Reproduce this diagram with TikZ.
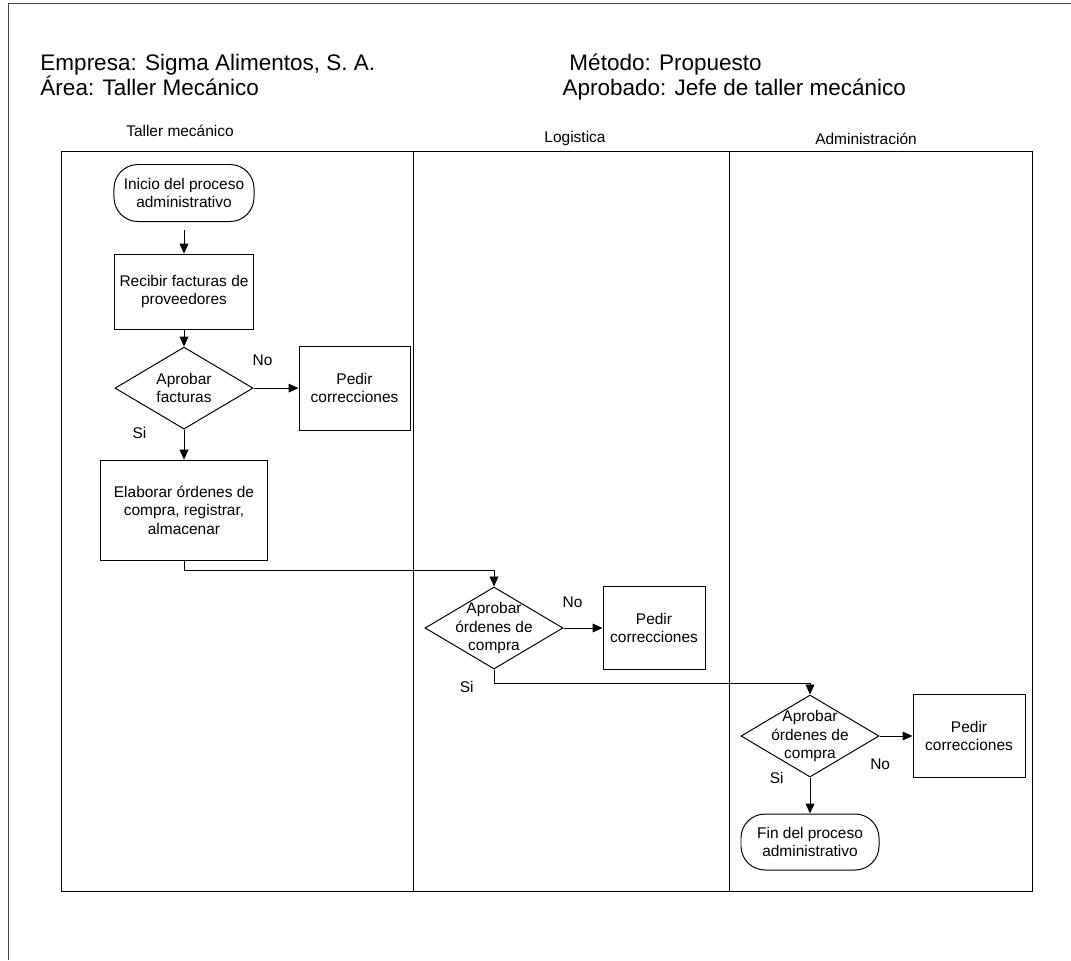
\documentclass[tikz,border=0pt]{standalone}
\usepackage{fontspec}
\setmainfont{Liberation Sans}
\usepackage{tikz}
\usetikzlibrary{positioning, arrows.meta, shapes.geometric}

\newcommand{\nodefont}{\fontsize{11}{13.2}\selectfont}
\newcommand{\headfont}{\fontsize{16}{19}\selectfont}

\tikzset{
	terminal/.style={draw, rectangle, rounded corners=0.6cm, align=center, font=\nodefont},
	process/.style={draw, rectangle, align=center, font=\nodefont},
	decision/.style={draw, diamond, align=center, font=\nodefont, inner sep=-0.5cm, minimum width=3.45cm, minimum height=2.05cm},
	answer/.style={font=\nodefont, inner sep=0pt},
	lane/.style={font=\nodefont, anchor=base},
	head/.style={font=\headfont, anchor=base west, inner sep=0pt},
	flow/.style={-{Triangle[length=0.25cm, width=0.22cm]}}
}

\begin{document}
\begin{tikzpicture}[x=0.025cm, y=-0.025cm, line width=0.7pt, node distance=1cm]
	\useasboundingbox (0,0) rectangle (1071,960);
	\draw[black!75] (8,960) -- (8,3) -- (1071,3);
	
	\node[head] (empresa) at (40,70) {Empresa: Sigma Alimentos, S. A.};
	\node[head] (area) at (40,95) {Área: Taller Mecánico};
	\node[head] (metodo) at (569,70) {Método: Propuesto};
	\node[head] (aprobado) at (562,95) {Aprobado: Jefe de taller mecánico};
	
	\draw (61,151) rectangle (1032,891);
	\draw (413,151) -- (413,891);
	\draw (729,151) -- (729,891);
	\node[lane] (taller) at (180,136) {Taller mecánico};
	\node[lane] (logistica) at (575,142) {Logistica};
	\node[lane] (admin) at (866,144) {Administración};
	
	\node[terminal, minimum width=3.5cm, minimum height=1.425cm] (inicio) at (184,193) {Inicio del proceso\\administrativo};
	\node[process, below=0.79cm of inicio, minimum width=3.475cm, minimum height=1.875cm] (recibir) {Recibir facturas de\\proveedores};
	\node[decision, below=0.425cm of recibir] (aprobar1) {Aprobar\\facturas};
	\node[process, right=1.125cm of aprobar1, minimum width=2.775cm, minimum height=2.1cm] (pedir1) {Pedir\\correcciones};
	\node[process, below=0.75cm of aprobar1, minimum width=4.15cm, minimum height=2.5cm] (elaborar) {Elaborar órdenes de\\compra, registrar,\\almacenar};
	\node[decision] (aprobar2) at (494,628) {Aprobar\\órdenes de\\compra};
	\node[process, right=0.975cm of aprobar2, minimum width=2.55cm, minimum height=2.075cm] (pedir2) {Pedir\\correcciones};
	\node[decision] (aprobar3) at (810,736) {Aprobar\\órdenes de\\compra};
	\node[process, right=0.825cm of aprobar3, minimum width=2.8cm, minimum height=2.075cm] (pedir3) {Pedir\\correcciones};
	\node[terminal, below=0.9cm of aprobar3, minimum width=3.45cm, minimum height=1.4cm] (fin) {Fin del proceso\\administrativo};
	
	\draw[flow, shorten <=0.2cm] (inicio) -- (recibir);
	\draw[flow] (recibir) -- (aprobar1);
	\draw[flow] (aprobar1) -- node[answer, pos=0.2, above=0.54cm] (no1) {No} (pedir1);
	\draw[flow] (aprobar1) -- node[answer, pos=0.1, left=0.93cm] (si1) {Si} (elaborar);
	\draw[flow] (elaborar.south) -- ++(0,10) -| (aprobar2.north);
	\draw[flow] (aprobar2) -- node[answer, pos=0.23, above=0.49cm] (no2) {No} (pedir2);
	\draw[flow] (aprobar2.south) -- ++(0,14) node[answer, left=0.5cm, yshift=-0.08cm] (si2) {Si} -| (aprobar3.north);
	\draw[flow] (aprobar3) -- node[answer, pos=0.02, below=0.55cm] (no3) {No} (pedir3);
	\draw[flow] (aprobar3) -- node[answer, pos=0, left=0.65cm] (si3) {Si} (fin);
\end{tikzpicture}
\end{document}
